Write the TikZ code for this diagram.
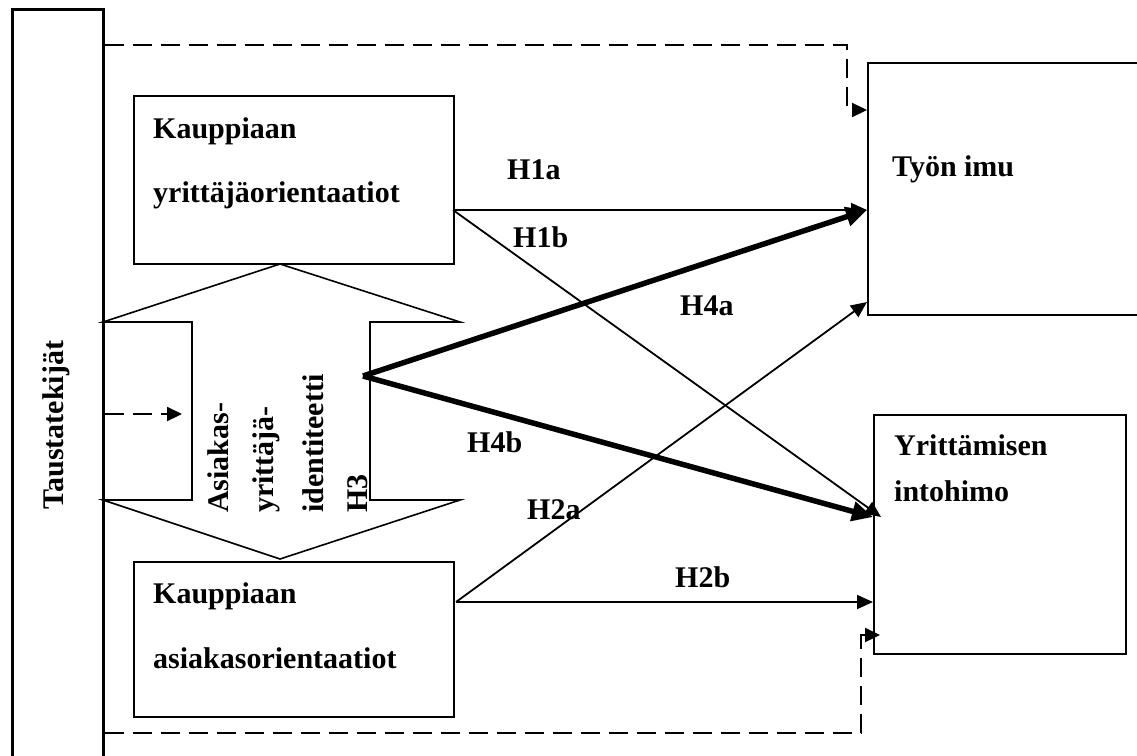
\documentclass[tikz,border=0pt]{standalone}
\usepackage{fontspec}
\setmainfont{Liberation Serif}
\usetikzlibrary{arrows.meta}

\begin{document}
\begin{tikzpicture}[x=1pt,y=-1pt,
  txt/.style={font=\fontsize{30}{36}\selectfont\bfseries, inner sep=0pt, anchor=base west},
  box/.style={draw, line width=1.6pt, anchor=north west, inner sep=0pt},
  link/.style={line width=1.8pt, -{Triangle[length=16pt,width=14pt]}},
  strong/.style={line width=5.5pt, -{Triangle[length=21pt,width=19pt]}},
  dashlink/.style={line width=2.2pt, dash pattern=on 19pt off 9pt, -{Triangle[length=15pt,width=14pt]}},
]
\useasboundingbox (0,0) rectangle (1137,755);

% background factors column (runs past the lower edge)
\node[box, line width=2.8pt, minimum width=91pt, minimum height=770pt] (tt) at (11,8) {};
\node[txt, rotate=90] (ttT) at (63,510) {Taustatekijät};

% orientation boxes
\node[box, minimum width=320pt, minimum height=168pt] (ky) at (133,95) {};
\node[txt] (kyT1) at (153,138) {Kauppiaan};
\node[txt] (kyT2) at (153,202) {yrittäjäorientaatiot};

\node[box, minimum width=320pt, minimum height=155pt] (ka) at (133,561) {};
\node[txt] (kaT1) at (153,603) {Kauppiaan};
\node[txt] (kaT2) at (153,668) {asiakasorientaatiot};

% outcome boxes
\node[box, minimum width=290pt, minimum height=252pt] (ti) at (867,62) {};
\node[txt] (tiT) at (892,176) {Työn imu};

\node[box, minimum width=252pt, minimum height=239pt] (yi) at (873,414) {};
\node[txt] (yiT1) at (894,455) {Yrittämisen};
\node[txt] (yiT2) at (894,501) {intohimo};

% two-headed identity arrow
\draw[line width=1.6pt] (280,264) -- (460,322) -- (370,322) -- (370,500) -- (460,500)
  -- (280,559) -- (103,500) -- (192,500) -- (192,322) -- (103,322) -- cycle;
\node[txt, rotate=90] (id1) at (228,513) {Asiakas-};
\node[txt, rotate=90] (id2) at (273,513) {yrittäjä-};
\node[txt, rotate=90] (id3) at (323,513) {identiteetti};
\node[txt, rotate=90] (id4) at (367,513) {H3};

% connection points
\coordinate (kyP) at (453,210);
\coordinate (kaP) at (456,602);
\coordinate (src) at (363,376);
\coordinate (tiA) at (867,210);
\coordinate (tiB) at (867,302);
\coordinate (yiA) at (873,517);
\coordinate (yiA2) at (881,517);
\coordinate (yiB) at (873,602);
\coordinate (d1a) at (847,45);
\coordinate (d1b) at (847,110);
\coordinate (d1c) at (867,110);
\coordinate (d2a) at (861,733);
\coordinate (d2b) at (861,635);
\coordinate (d2c) at (880,635);
\coordinate (d3) at (182,414);

% hypothesised paths
\draw[link] (kyP) -- (tiA);
\draw[link] (kyP) -- (yiA2);
\draw[link] (kaP) -- (tiB);
\draw[link] (kaP) -- (yiB);
\draw[strong] (src) -- (tiA);
\draw[strong] (src) -- (yiA);

% control paths from background factors
\draw[dashlink] (tt.east |- d1a) -- (d1a) -- (d1b) -- (d1c);
\draw[dashlink] (tt.east |- d2a) -- (d2a) -- (d2b) -- (d2c);
\draw[dashlink] (tt.east |- d3) -- (d3);

% path labels
\node[txt] (lH1a) at (507,179) {H1a};
\node[txt] (lH1b) at (513,247) {H1b};
\node[txt] (lH4a) at (680,315) {H4a};
\node[txt] (lH4b) at (467,452) {H4b};
\node[txt] (lH2a) at (527,519) {H2a};
\node[txt] (lH2b) at (675,587) {H2b};
\end{tikzpicture}
\end{document}
